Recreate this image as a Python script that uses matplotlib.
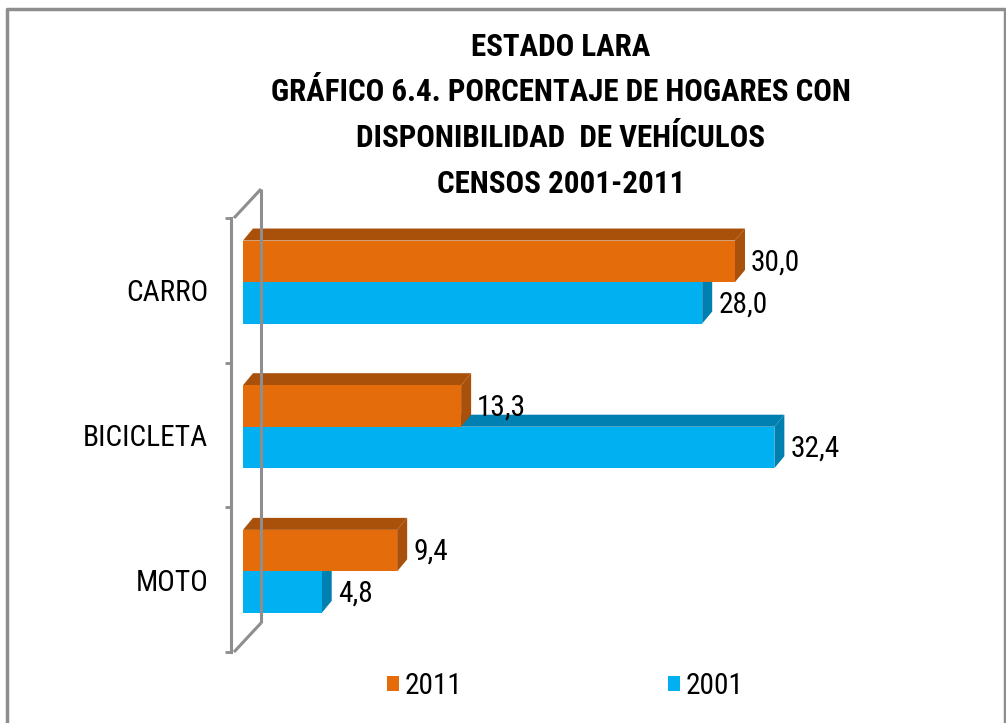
import os
import matplotlib
matplotlib.use("Agg")
import matplotlib.pyplot as plt
from matplotlib import font_manager as fm
from matplotlib.patches import Polygon, Patch
from matplotlib.lines import Line2D

# ---- data ----
categories = ["MOTO", "BICICLETA", "CARRO"]          # bottom -> top
values_2011 = [9.4, 13.3, 30.0]
values_2001 = [4.8, 32.4, 28.0]
series_labels = ["2011", "2001"]
title_lines = ["ESTADO LARA",
               "GRÁFICO 6.4. PORCENTAJE DE HOGARES CON",
               "DISPONIBILIDAD  DE VEHÍCULOS",
               "CENSOS 2001-2011"]

# ---- pick a condensed font if one is installed ----
def find_font(bold):
    prefs = ["liberationsansnarrow", "robotocondensed", "opensanscondensed",
             "notosanscondensed", "dejavusanscondensed", "notosans_condensed",
             "opensans_condensed"]
    found = {}
    for f in fm.fontManager.ttflist:
        fn = os.path.basename(f.fname).lower().replace("-", "").replace(" ", "")
        if "italic" in fn or "oblique" in fn:
            continue
        is_bold = "bold" in fn and "semibold" not in fn and "extrabold" not in fn
        if bold != is_bold:
            continue
        if any(w in fn for w in ("light", "thin", "medium", "black", "semi", "extra")):
            continue
        for p in prefs:
            if fn.startswith(p.replace("_", "")):
                found.setdefault(p, f.fname)
    for p in prefs:
        if p in found:
            return fm.FontProperties(fname=found[p])
    return fm.FontProperties(family="DejaVu Sans",
                             weight="bold" if bold else "normal")

FP_REG = find_font(False)
FP_BOLD = find_font(True)

C_OR, C_OR_D = "#E46C0A", "#A9500A"
C_BL, C_BL_D = "#00B0F0", "#0080B0"
GRAY = "#8E8E8E"

W, H = 1006, 723
fig = plt.figure(figsize=(W / 100, H / 100), dpi=100)
fig.patch.set_facecolor("white")
renderer = fig.canvas.get_renderer()

def fit_size(text, fp, target_px, base=20):
    t = fig.text(0, 0, text, fontproperties=fp, fontsize=base)
    w = t.get_window_extent(renderer).width
    t.remove()
    return base * target_px / w

# font sizes derived from target text widths in the reference
title_size = min(26, fit_size(title_lines[1], FP_BOLD, 581))
lab_w = fit_size("CARRO", FP_REG, 76)
label_size = min(23, (lab_w * 23) ** 0.5)

# axes placement in pixels
AX_L, AX_R, AX_T, AX_B = 243, 899, 218, 652
ax = fig.add_axes([AX_L / W, 1 - AX_B / H, (AX_R - AX_L) / W, (AX_B - AX_T) / H])
XMAX = 40
ax.set_xlim(0, XMAX)
ax.set_ylim(-0.5, 2.5)
ax.patch.set_alpha(0)

px_x = (AX_R - AX_L) / XMAX
px_y = (AX_B - AX_T) / 3.0
DX = 10 / px_x          # 3D depth in data units
DY = 12 / px_y
BH = 41.5 / px_y        # bar height
SHIFT = 8.3 / px_y      # group offset inside category band
LBL_GAP = 6 / px_x

ypos = list(range(len(categories)))

def draw_depth(y0, y1, v, dark, z):
    top = Polygon([(0, y1), (v, y1), (v + DX, y1 + DY), (DX, y1 + DY)],
                  closed=True, facecolor=dark, edgecolor="none", zorder=z)
    side = Polygon([(v, y0), (v, y1), (v + DX, y1 + DY), (v + DX, y0 + DY)],
                   closed=True, facecolor=dark, edgecolor="none", zorder=z)
    ax.add_patch(top)
    ax.add_patch(side)

for i, y in enumerate(ypos):
    c = y + SHIFT
    draw_depth(c - BH, c, values_2001[i], C_BL_D, 2)
    ax.barh(c - BH / 2, values_2001[i], height=BH, color=C_BL, linewidth=0, zorder=3)
    draw_depth(c, c + BH, values_2011[i], C_OR_D, 4)
    ax.barh(c + BH / 2, values_2011[i], height=BH, color=C_OR, linewidth=0, zorder=5)

    for v, yc in ((values_2011[i], c + BH / 2 - 0.01), (values_2001[i], c - BH / 2 - 0.01)):
        ax.text(v + DX + LBL_GAP, yc, f"{v:.1f}".replace(".", ","),
                ha="left", va="center", fontproperties=FP_REG,
                fontsize=label_size, color="black", zorder=6)

# front axis line with category labels
for s in ("top", "right", "bottom"):
    ax.spines[s].set_visible(False)
ax.spines["left"].set_position(("outward", 9))
ax.spines["left"].set_color(GRAY)
ax.spines["left"].set_linewidth(2.2)
ax.set_xticks([])
ax.set_yticks(ypos)
ax.set_yticklabels(categories)
for lbl in ax.get_yticklabels():
    lbl.set_fontproperties(FP_REG)
    lbl.set_fontsize(label_size)
ax.tick_params(axis="y", which="major", length=0, pad=16)
ax.set_yticks([-0.5, 0.5, 1.5, 2.5], minor=True)
ax.tick_params(axis="y", which="minor", length=4, width=2, color=GRAY, direction="out")

# back wall lines (3D frame)
def fig_line(xs, ys):
    fig.add_artist(Line2D([x / W for x in xs], [1 - y / H for y in ys],
                          color=GRAY, linewidth=2.2, solid_capstyle="butt"))

FX = AX_L - 9
WDX, WDY = 27, 29
fig_line([FX + WDX, FX + WDX], [AX_T - WDY, AX_B - WDY])
fig_line([FX, FX + WDX], [AX_T, AX_T - WDY])
fig_line([FX, FX + WDX], [AX_B, AX_B - WDY])

# title
title_y = [47, 92, 138, 184]
for line, ty in zip(title_lines, title_y):
    fig.text(561 / W, 1 - ty / H, line, ha="center", va="center",
             fontproperties=FP_BOLD, fontsize=title_size, color="black")

# legend
handles = [Patch(facecolor=C_OR, edgecolor="none"), Patch(facecolor=C_BL, edgecolor="none")]
leg_fp = FP_REG.copy()
leg_fp.set_size(label_size)
colsp = (668 - 388 - 12 - 5) / (label_size * 100 / 72) - fit_size("2011", FP_REG, 1, base=label_size) ** -1 * label_size / (label_size * 100 / 72)
fig.legend(handles, series_labels, loc="center left",
           bbox_to_anchor=(387 / W, 1 - 686 / H), ncol=2, frameon=False,
           prop=leg_fp, handlelength=12 / (label_size * 100 / 72),
           handleheight=12 / (label_size * 100 / 72), handletextpad=0.2,
           columnspacing=colsp, borderpad=0, borderaxespad=0)

# outer border
fig.add_artist(Line2D([7 / W, 7 / W, 1005 / W, 1005 / W],
                      [-0.01, 1 - 9 / H, 1 - 9 / H, -0.01],
                      color=GRAY, linewidth=2.5))

fig.savefig("out.png", dpi=100, facecolor="white")
